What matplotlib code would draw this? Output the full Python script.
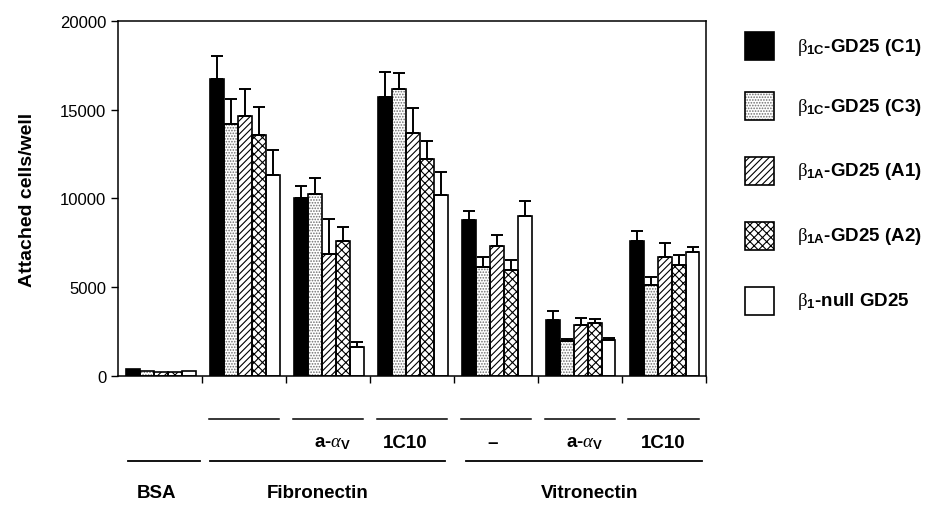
import numpy as np
import matplotlib
matplotlib.use("Agg")
import matplotlib.pyplot as plt
from matplotlib.patches import Rectangle

# -------------------------
# Data
# -------------------------
conditions = ["BSA", "Fn -", "Fn a-av", "Fn 1C10", "Vn -", "Vn a-av", "Vn 1C10"]
series = ["C1", "C3", "A1", "A2", "null"]

c1   = [400, 16750, 10000, 15700, 8800, 3170, 7590]
c3   = [300, 14200, 10250, 16150, 6120, 1990, 5150]
a1   = [200, 14650,  6870, 13700, 7340, 2870, 6690]
a2   = [250, 13550,  7590, 12250, 5990, 2970, 6270]
null = [300, 11300,  1650, 10200, 9030, 2050, 6970]

c1_err   = [0, 1300,  700, 1450, 500, 470, 600]
c3_err   = [0, 1400,  900,  900, 560, 100, 420]
a1_err   = [0, 1500, 1950, 1400, 600, 400, 800]
a2_err   = [0, 1600,  800, 1000, 550, 220, 550]
null_err = [0, 1450,  280, 1300, 800, 100, 320]

values = [c1, c3, a1, a2, null]
errors = [c1_err, c3_err, a1_err, a2_err, null_err]

legend_labels = [r"$\mathrm{\beta}_{\mathbf{1C}}$-GD25 (C1)",
                 r"$\mathrm{\beta}_{\mathbf{1C}}$-GD25 (C3)",
                 r"$\mathrm{\beta}_{\mathbf{1A}}$-GD25 (A1)",
                 r"$\mathrm{\beta}_{\mathbf{1A}}$-GD25 (A2)",
                 r"$\mathrm{\beta}_{\mathbf{1}}$-null GD25"]

treatment_labels = ["", "", r"a-$\alpha_{\mathbf{V}}$", "1C10",
                    "\u2013", r"a-$\alpha_{\mathbf{V}}$", "1C10"]
treatment_x = [0.5, 1.5, 2.56, 3.42, 4.46, 5.56, 6.49]
substrate_labels = ["BSA", "Fibronectin", "Vitronectin"]
substrate_x = [0.46, 2.38, 5.62]
substrate_span = [(0.12, 0.98), (1.10, 3.89), (4.15, 6.95)]

# bar styles
face = ["black", "white", "white", "white", "white"]
hatch = [None, "......", "/////", "xxxx", None]
hatch_col = ["black", "#6e6e6e", "black", "black", "black"]

plt.rcParams["font.family"] = ["Liberation Sans", "DejaVu Sans"]
plt.rcParams["hatch.linewidth"] = 0.8
plt.rcParams["mathtext.fontset"] = "custom"
plt.rcParams["mathtext.rm"] = "Liberation Serif"
plt.rcParams["mathtext.it"] = "Liberation Serif:italic"
plt.rcParams["mathtext.bf"] = "Liberation Sans:bold"

fig = plt.figure(figsize=(9.36, 5.06), dpi=100)
ax = fig.add_axes([0.126, 0.255, 0.628, 0.7016])

# -------------------------
# Bars
# -------------------------
n_groups = len(conditions)
width = 0.165
x0 = np.arange(n_groups) + 0.1
for j in range(len(series)):
    x = x0 + j * width
    ax.bar(x, values[j], width, align="edge", color=face[j],
           edgecolor=hatch_col[j], hatch=hatch[j], linewidth=0, zorder=2)
    ax.bar(x, values[j], width, align="edge", fill=False,
           edgecolor="black", linewidth=1.2, zorder=3)
    err = np.array(errors[j])
    vals = np.array(values[j])
    mask = err > 0
    ax.errorbar(x[mask] + width / 2, vals[mask],
                yerr=[np.zeros(mask.sum()), err[mask]],
                fmt="none", ecolor="black", elinewidth=1.4,
                capsize=4.5, capthick=1.4, zorder=4)

ax.set_xlim(0, n_groups)
ax.set_ylim(0, 20000)
ax.set_yticks([0, 5000, 10000, 15000, 20000])
ax.set_yticklabels(["0", "5000", "10000", "15000", "20000"], fontsize=12)
ax.set_xticks(np.arange(1, n_groups + 1))
ax.set_xticklabels([])
ax.tick_params(axis="both", direction="out", length=5, width=1)
ax.set_ylabel("Attached cells/well", fontsize=14, fontweight="bold", labelpad=17)
for s in ax.spines.values():
    s.set_linewidth(1.1)

# -------------------------
# Category labels under the axis
# -------------------------
trans = ax.get_xaxis_transform()
for i in range(1, n_groups):
    ax.plot([i + 0.08, i + 0.92], [-0.121, -0.121], color="black", lw=1.1,
            transform=trans, clip_on=False)
for i, lab in enumerate(treatment_labels):
    if lab:
        ax.text(treatment_x[i], -0.186, lab, transform=trans, ha="center",
                va="center", fontsize=13.5, fontweight="bold")
for (a, b) in substrate_span:
    ax.plot([a, b], [-0.2386, -0.2386], color="black", lw=1.3,
            transform=trans, clip_on=False)
for lab, xx in zip(substrate_labels, substrate_x):
    ax.text(xx, -0.328, lab, transform=trans, ha="center", va="center",
            fontsize=13.5, fontweight="bold")

# -------------------------
# Legend (drawn by hand)
# -------------------------
W, H = 936, 506
leg_y = [47, 107, 172, 237, 302]
for j, yc in enumerate(leg_y):
    x_l, y_b = 745 / W, 1 - (yc + 14) / H
    fig.patches.append(Rectangle((x_l, y_b), 29 / W, 28 / H, transform=fig.transFigure,
                                 facecolor=face[j], edgecolor=hatch_col[j],
                                 hatch=hatch[j], linewidth=0))
    fig.patches.append(Rectangle((x_l, y_b), 29 / W, 28 / H, transform=fig.transFigure,
                                 fill=False, edgecolor="black", linewidth=1.2))
    fig.text(797 / W, 1 - yc / H, legend_labels[j], fontsize=13.5,
             fontweight="bold", va="center", ha="left")

fig.savefig("out.png", dpi=100)
